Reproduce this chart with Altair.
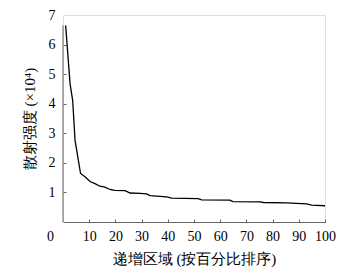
import altair as alt
import pandas as pd

x_pct = [1, 2.7, 3.7, 4.6, 6.7, 8.4, 10.3, 12.2, 14.1, 16, 17.9, 19.8, 23.7, 25.6,
         29.4, 31.9, 33.2, 39.6, 41.5, 51.6, 52.9, 63.7, 64.8, 75.2, 76.5, 85.4,
         93, 94.9, 100]
intensity = [6.65, 4.67, 4.1, 2.76, 1.64, 1.53, 1.37, 1.30, 1.21, 1.18, 1.10, 1.07,
             1.06, 0.98, 0.97, 0.95, 0.89, 0.85, 0.81, 0.79, 0.75, 0.74, 0.69, 0.68,
             0.66, 0.65, 0.61, 0.57, 0.55]
x_ticks = [0, 10, 20, 30, 40, 50, 60, 70, 80, 90, 100]
y_ticks = [1, 2, 3, 4, 5, 6, 7]

df = pd.DataFrame({"x": x_pct, "y": intensity})
axis_df = pd.DataFrame({"x": [0], "y": [0], "y1": [max(intensity)]})

FONT = "Liberation Serif, DejaVu Serif, serif"
AX = "#666666"

xscale = alt.Scale(domain=[0, 100], nice=False)
yscale = alt.Scale(domain=[0, 7], nice=False)

xaxis = alt.Axis(values=x_ticks, title="递增区域 (按百分比排序)",
                 grid=False, domainColor=AX, tickColor=AX,
                 tickSize=alt.ExprRef("-3"),
                 labelOverlap=False, labelFlush=False,
                 labelOffset={"condition": {"test": "datum.value === 0", "value": -13}, "value": 0},
                 tickOpacity={"condition": {"test": "datum.value === 0", "value": 0}, "value": 1},
                 labelFont=FONT, labelFontSize=14, labelColor="black",
                 labelPadding=10, titleFont=FONT, titleFontSize=15,
                 titleFontWeight="normal", titleColor="black", titlePadding=8)
yaxis = alt.Axis(values=y_ticks, title="散射强度 (×10⁴)", grid=False,
                 domain=False, tickColor=AX, tickSize=alt.ExprRef("-3"),
                 labelOverlap=False, labelFlush=False,
                 tickOpacity={"condition": {"test": "datum.value === 7", "value": 0}, "value": 1},
                 labelFont=FONT, labelFontSize=14, labelColor="black",
                 labelPadding=11, titleFont=FONT, titleFontSize=15,
                 titleFontWeight="normal", titleColor="black", titlePadding=11)

line = alt.Chart(df).mark_line(color="black", strokeWidth=1.3).encode(
    x=alt.X("x:Q", scale=xscale, axis=xaxis),
    y=alt.Y("y:Q", scale=yscale, axis=yaxis),
)

yaxis_line = alt.Chart(axis_df).mark_rule(color=AX, strokeWidth=1).encode(
    x=alt.X("x:Q", scale=xscale, axis=xaxis),
    y=alt.Y("y:Q", scale=yscale, axis=yaxis),
    y2="y1:Q",
)

chart = alt.layer(line, yaxis_line).properties(
    width=262, height=207,
    autosize=alt.AutoSizeParams(type="none"),
    padding={"left": 63, "top": 15, "right": 32, "bottom": 55},
).configure_view(strokeWidth=0).configure(background="white")

chart.save("out.html", embed_options={"renderer": "svg", "actions": False})
